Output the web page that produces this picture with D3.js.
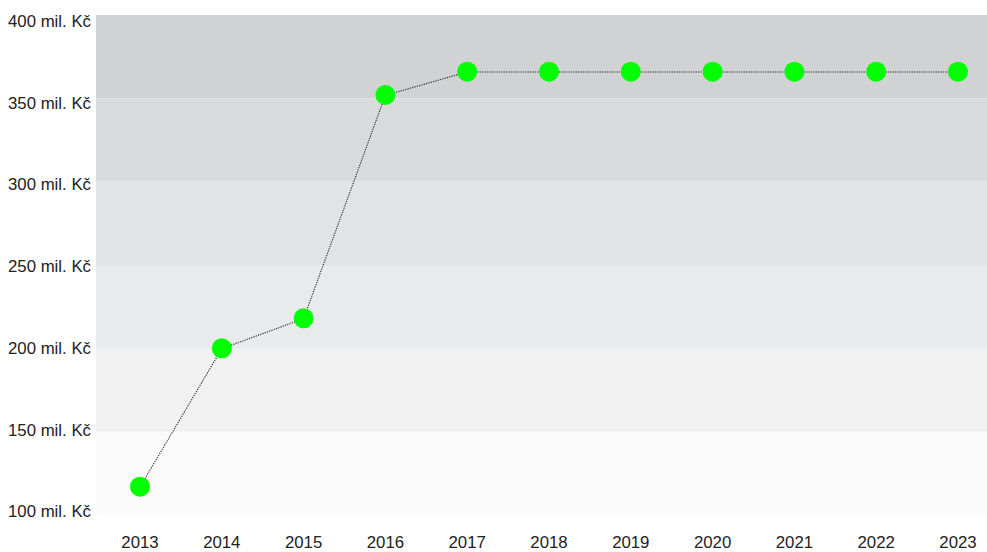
<!DOCTYPE html>
<html>
<head>
<meta charset="utf-8">
<script src="https://cdn.jsdelivr.net/npm/d3@7"></script>
<style>
  body { margin: 0; background: #fff; }
  text { font-family: "Liberation Sans", Arial, sans-serif; font-size: 16.8px; fill: #222; }
</style>
</head>
<body>
<div class="graph"></div>
<script>
  const years = ['2013', '2014', '2015', '2016', '2017', '2018', '2019', '2020', '2021', '2022', '2023'];
  const values = [117, 200, 218, 352, 366, 366, 366, 366, 366, 366, 366];
  const yTicks = [100, 150, 200, 250, 300, 350, 400];
  const bandColors = ['#fafafa', '#f1f1f2', '#e9eaec', '#e2e3e5', '#d9dadc', '#d1d2d4'];

  const margin = { top: 15, left: 96, bottom: 37, right: 0 };
  const width = 987 - margin.left - margin.right;
  const height = 552 - margin.top - margin.bottom;

  const svg = d3.select('.graph')
    .append('svg')
    .attr('width', 987)
    .attr('height', 552)
    .append('g')
    .attr('transform', 'translate(' + margin.left + ',' + margin.top + ')');

  const xScale = d3.scalePoint()
    .domain(years)
    .range([44, 862]);

  const yScale = d3.scaleLinear()
    .domain([100, 400])
    .range([height, 0]);

  // labels sit a bit inside the plot at the ends
  const yLabel = d3.scaleLinear()
    .domain([100, 400])
    .range([height - 3.5, 6]);

  // background bands
  svg.selectAll('.band')
    .data(d3.pairs(yTicks))
    .enter()
    .append('rect')
    .attr('class', 'band')
    .attr('x', 0)
    .attr('width', width)
    .attr('y', d => yScale(d[1]))
    .attr('height', d => yScale(d[0]) - yScale(d[1]))
    .attr('fill', (d, i) => bandColors[i]);

  svg.selectAll('.y-label')
    .data(yTicks)
    .enter()
    .append('text')
    .attr('class', 'y-label')
    .attr('x', -5)
    .attr('y', d => yLabel(d))
    .attr('dy', '0.35em')
    .attr('text-anchor', 'end')
    .text(d => d + ' mil. Kč');

  svg.selectAll('.x-label')
    .data(years)
    .enter()
    .append('text')
    .attr('class', 'x-label')
    .attr('x', d => xScale(d))
    .attr('y', height + 32.5)
    .attr('text-anchor', 'middle')
    .text(d => d);

  const line = d3.line()
    .x((d, i) => xScale(years[i]))
    .y(d => yScale(d));

  svg.append('path')
    .datum(values)
    .attr('fill', 'none')
    .attr('stroke', '#222')
    .attr('stroke-width', 1.1)
    .attr('stroke-dasharray', '1.2,1.2')
    .attr('transform', 'translate(0,0.3)')
    .attr('d', line);

  svg.selectAll('.dot')
    .data(values)
    .enter()
    .append('circle')
    .attr('class', 'dot')
    .attr('cx', (d, i) => xScale(years[i]))
    .attr('cy', d => yScale(d))
    .attr('r', 10)
    .attr('fill', '#00ff00');
</script>
</body>
</html>
